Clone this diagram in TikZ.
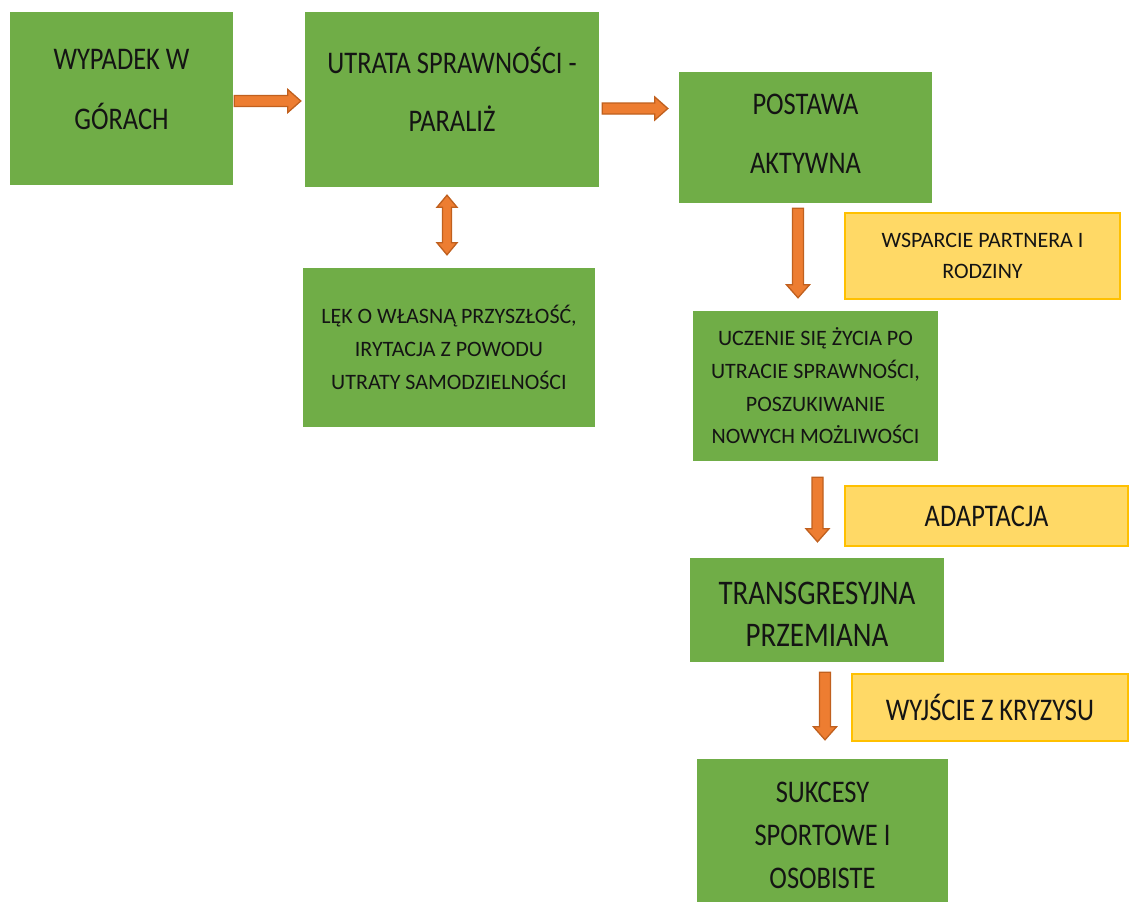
\documentclass[tikz,border=0pt]{standalone}
\usepackage{fontspec}
\setmainfont{Carlito}
\newfontfamily\condf{Carlito}[FakeStretch=0.84]
\usetikzlibrary{calc}

\definecolor{boxgreen}{HTML}{70AD47}
\definecolor{noteyellow}{HTML}{FFD966}
\definecolor{noteedge}{HTML}{FFC000}
\definecolor{arrowfill}{HTML}{ED7D31}
\definecolor{arrowedge}{HTML}{C0601E}
\definecolor{inktext}{HTML}{141414}

% box body: fixed size, centred lines, #3 lifts the text block by half its value
\newcommand\boxtext[4]{\parbox[c][#2][c]{#1}{\centering #4\par\kern#3\relax}}

\tikzset{
  gbox/.style={fill=boxgreen, inner sep=0pt, text=inktext},
  ybox/.style={fill=noteyellow, draw=noteedge, line width=2pt, inner sep=0pt, text=inktext},
  bigtext/.style={font=\condf\fontsize{31.5}{#1}\selectfont},
  smalltext/.style={font=\fontsize{22}{#1}\selectfont},
  % one-headed block arrow from start to target
  blockarrow/.style={fill=arrowfill, draw=arrowedge, line width=1.3pt, line join=miter,
    to path={
      -- ($(\tikztostart)!5.5pt!90:(\tikztotarget)$)
      -- ($($(\tikztotarget)!13pt!(\tikztostart)$)!5.5pt!90:(\tikztotarget)$)
      -- ($($(\tikztotarget)!13pt!(\tikztostart)$)!11.5pt!90:(\tikztotarget)$)
      -- (\tikztotarget)
      -- ($($(\tikztotarget)!13pt!(\tikztostart)$)!11.5pt!-90:(\tikztotarget)$)
      -- ($($(\tikztotarget)!13pt!(\tikztostart)$)!5.5pt!-90:(\tikztotarget)$)
      -- ($(\tikztostart)!5.5pt!-90:(\tikztotarget)$)
      -- cycle}},
  % two-headed block arrow
  dblockarrow/.style={fill=arrowfill, draw=arrowedge, line width=1.3pt, line join=miter,
    to path={
      -- ($($(\tikztostart)!12pt!(\tikztotarget)$)!10pt!90:(\tikztotarget)$)
      -- ($($(\tikztostart)!12pt!(\tikztotarget)$)!4.5pt!90:(\tikztotarget)$)
      -- ($($(\tikztotarget)!12pt!(\tikztostart)$)!4.5pt!90:(\tikztotarget)$)
      -- ($($(\tikztotarget)!12pt!(\tikztostart)$)!10pt!90:(\tikztotarget)$)
      -- (\tikztotarget)
      -- ($($(\tikztotarget)!12pt!(\tikztostart)$)!10pt!-90:(\tikztotarget)$)
      -- ($($(\tikztotarget)!12pt!(\tikztostart)$)!4.5pt!-90:(\tikztotarget)$)
      -- ($($(\tikztostart)!12pt!(\tikztotarget)$)!4.5pt!-90:(\tikztotarget)$)
      -- ($($(\tikztostart)!12pt!(\tikztotarget)$)!10pt!-90:(\tikztotarget)$)
      -- cycle}}
}

\begin{document}
\begin{tikzpicture}[x=1pt, y=-1pt]
  \useasboundingbox (0,0) rectangle (1130,902);
  \clip (0,0) rectangle (1130,902);
  \fill[white] (0,0) rectangle (1130,902);

  % main chain
  \node[gbox, bigtext=60] (wyp) at (121.5,98.5)
    {\boxtext{223pt}{173pt}{17pt}{WYPADEK W\\GÓRACH}};
  \node[gbox, bigtext=58] (utr) at (452,99.5)
    {\boxtext{294pt}{175pt}{20pt}{UTRATA SPRAWNOŚCI -\\PARALIŻ}};
  \node[gbox, bigtext=59] (post) at (805.5,137.5)
    {\boxtext{253pt}{131pt}{8pt}{POSTAWA\\AKTYWNA}};
  \node[gbox, smalltext=33] (lek) at (449,347.5)
    {\boxtext{292pt}{159pt}{0pt}{LĘK O WŁASNĄ PRZYSZŁOŚĆ,\\IRYTACJA Z POWODU\\UTRATY SAMODZIELNOŚCI}};
  \node[gbox, smalltext=32.7] (ucz) at (815.5,386)
    {\boxtext{245pt}{150pt}{0pt}{UCZENIE SIĘ ŻYCIA PO\\UTRACIE SPRAWNOŚCI,\\POSZUKIWANIE\\NOWYCH MOŻLIWOŚCI}};
  \node[gbox, font=\condf\fontsize{34.5}{42}\selectfont] (trans) at (817,610)
    {\boxtext{254pt}{104pt}{-8pt}{TRANSGRESYJNA\\PRZEMIANA}};
  \node[gbox, bigtext=43] (suk) at (822.5,834.5)
    {\boxtext{251pt}{151pt}{-2pt}{SUKCESY\\SPORTOWE I\\OSOBISTE}};

  % side notes
  \node[ybox, smalltext=31] (wsp) at (982.5,256)
    {\boxtext{275pt}{86pt}{0pt}{WSPARCIE PARTNERA I\\RODZINY}};
  \node[ybox, bigtext=38] (adap) at (986.5,516)
    {\boxtext{283pt}{60pt}{0pt}{ADAPTACJA}};
  \node[ybox, bigtext=38] (wyj) at (990,707.5)
    {\boxtext{276pt}{67pt}{0pt}{WYJŚCIE Z KRYZYSU}};

  % arrow ends, taken from the boxes they join
  \coordinate (a1s) at ($(wyp.east)+(1,2.5)$);
  \coordinate (a1e) at ($(utr.west)+(-4,1.5)$);
  \coordinate (a2s) at ($(utr.east)+(3,9)$);
  \coordinate (a2e) at ($(post.west)+(-11,-29)$);
  \coordinate (a3s) at ($(utr.south)+(-5,8)$);
  \coordinate (a3e) at ($(lek.north)+(-2,-13)$);
  \coordinate (a4s) at ($(post.south)+(-7.5,5)$);
  \coordinate (a4e) at ($(ucz.north)+(-17.5,-13)$);
  \coordinate (a5s) at ($(ucz.south)+(2,16)$);
  \coordinate (a5e) at ($(trans.north)+(0.5,-16)$);
  \coordinate (a6s) at ($(trans.south)+(8,10)$);
  \coordinate (a6e) at ($(suk.north)+(2.5,-19)$);

  \draw[blockarrow] (a1s) to (a1e);
  \draw[blockarrow] (a2s) to (a2e);
  \draw[dblockarrow] (a3s) to (a3e);
  \draw[blockarrow] (a4s) to (a4e);
  \draw[blockarrow] (a5s) to (a5e);
  \draw[blockarrow] (a6s) to (a6e);
\end{tikzpicture}
\end{document}
